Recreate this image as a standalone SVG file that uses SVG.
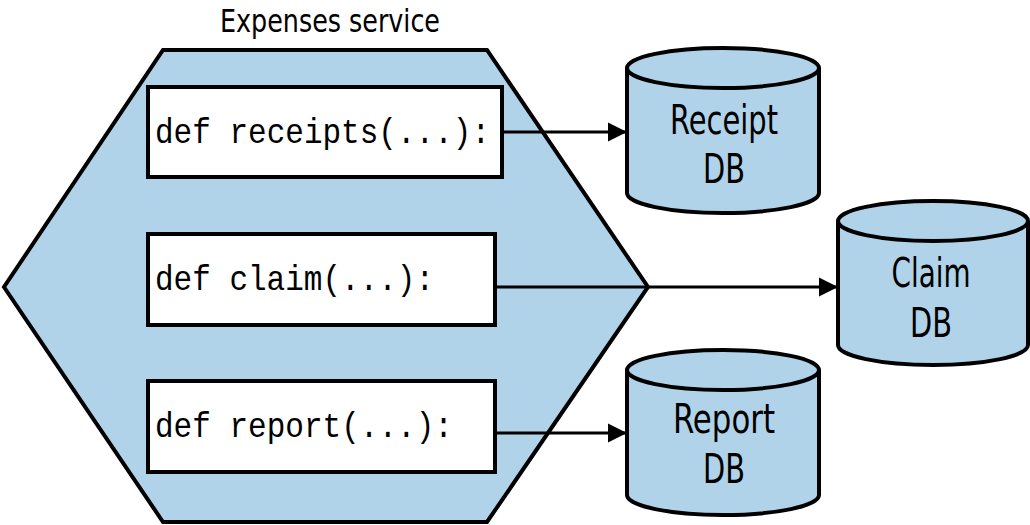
<svg xmlns="http://www.w3.org/2000/svg" width="1030" height="525" viewBox="0 0 1030 525">
<style>
.hex{fill:#b0d3e9;stroke:#000;stroke-width:4;stroke-linejoin:miter}
.box{fill:#fff;stroke:#000;stroke-width:4}
.cyl{fill:#b0d3e9;stroke:#000;stroke-width:4}
.code{font-family:"Liberation Mono","DejaVu Sans Mono",monospace;font-size:35px;fill:#000}
.lbl{font-family:"DejaVu Sans Condensed","Liberation Sans",sans-serif;fill:#000;text-anchor:middle}
.conn{stroke:#000;stroke-width:3;fill:none;marker-end:url(#ah)}
</style>
<defs>
<marker id="ah" viewBox="0 0 10 10" refX="10" refY="5" markerWidth="6.5" markerHeight="6.5" markerUnits="strokeWidth" orient="auto">
<path d="M0,0 L10,5 L0,10 Z" fill="#000"/>
</marker>
</defs>
<g id="service">
<polygon class="hex" points="163,50 487,50 648,287 487,522 163,522 4,287"/>
<text class="lbl" x="330" y="32" font-size="32" textLength="220" lengthAdjust="spacingAndGlyphs">Expenses service</text>
</g>
<g id="receipts">
<rect class="box" x="148" y="87" width="354" height="90"/>
<text class="code" x="155" y="143" textLength="335" lengthAdjust="spacingAndGlyphs">def receipts(...):</text>
</g>
<g id="claim">
<rect class="box" x="148" y="234" width="347" height="91"/>
<text class="code" x="155" y="290" textLength="279" lengthAdjust="spacingAndGlyphs">def claim(...):</text>
</g>
<g id="report">
<rect class="box" x="148" y="381" width="347" height="91"/>
<text class="code" x="155" y="437" textLength="298" lengthAdjust="spacingAndGlyphs">def report(...):</text>
</g>
<g id="receiptdb">
<path class="cyl" d="M627,68 A96,20 0 0 1 819,68 L819,193 A96,20 0 0 1 627,193 Z"/>
<path class="cyl" d="M627,68 A96,20 0 0 0 819,68" fill="none"/>
<text class="lbl" x="724" y="134" font-size="41" textLength="108" lengthAdjust="spacingAndGlyphs">Receipt</text>
<text class="lbl" x="724" y="183" font-size="41" textLength="42" lengthAdjust="spacingAndGlyphs">DB</text>
</g>
<g id="claimdb">
<path class="cyl" d="M838,221 A95,20 0 0 1 1028,221 L1028,345 A95,20 0 0 1 838,345 Z"/>
<path class="cyl" d="M838,221 A95,20 0 0 0 1028,221" fill="none"/>
<text class="lbl" x="931" y="287" font-size="41" textLength="79" lengthAdjust="spacingAndGlyphs">Claim</text>
<text class="lbl" x="931" y="337" font-size="41" textLength="42" lengthAdjust="spacingAndGlyphs">DB</text>
</g>
<g id="reportdb">
<path class="cyl" d="M627,370 A96,20 0 0 1 819,370 L819,495 A96,20 0 0 1 627,495 Z"/>
<path class="cyl" d="M627,370 A96,20 0 0 0 819,370" fill="none"/>
<text class="lbl" x="724" y="433" font-size="41" textLength="102" lengthAdjust="spacingAndGlyphs">Report</text>
<text class="lbl" x="724" y="483" font-size="41" textLength="42" lengthAdjust="spacingAndGlyphs">DB</text>
</g>
<g id="connectors">
<line class="conn" x1="502" y1="132" x2="627" y2="132"/>
<line class="conn" x1="495" y1="287" x2="838" y2="287"/>
<line class="conn" x1="495" y1="433" x2="627" y2="433"/>
</g>
</svg>
